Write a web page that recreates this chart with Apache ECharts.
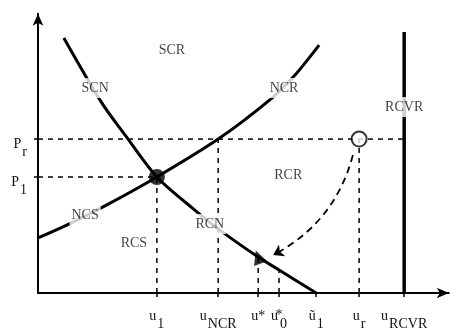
<!DOCTYPE html>
<html><head><meta charset="utf-8">
<script src="https://cdn.jsdelivr.net/npm/echarts@6/dist/echarts.min.js"></script>
<style>html,body{margin:0;padding:0;background:#fff}#c{width:459px;height:331px}</style>
</head><body><div id="c"></div>
<script>
// Axis tick positions (abstract units)
const uValues = [28.5, 43.2, 52.8, 57.8, 66.7, 77.0, 87.8]; // u1, uNCR, u*, u0*, ũ1, ur, uRCVR
const uLabels = ['{m|u}{s|1}', '{m|u}{s|NCR}', '{m|u*}', '{m|u}{st|*}{s|0}', '{m|ũ}{s|1}', '{m|u}{s|r}', '{m|u}{s|RCVR}'];
const pValues = [40.7, 54.0]; // p1, pr
const pLabels = ['{m|P}{s|1}', '{m|P}{s|r}'];

// Curve SCN -> RCN (downward sloping)
const scnX = [6.2, 15.3, 20.9, 28.5, 37.6, 43.2, 52.8, 57.8, 66.7];
const scnY = [89.5, 66.7, 55.4, 40.7, 29.1, 22.5, 12.6, 8.1, 0];
// Curve NCS -> NCR (upward sloping)
const ncsX = [0, 7.0, 16.5, 28.5, 43.2, 56.1, 61.4, 67.4];
const ncsY = [19.3, 23.9, 30.9, 40.7, 54.0, 68.4, 76.1, 87.0];
// RCVR vertical line top
const rcvrTop = 91.6;
// Region labels
const regionNames = ['SCR', 'SCN', 'NCR', 'RCVR', 'RCR', 'NCS', 'RCS', 'RCN'];
const regionX = [32.1, 13.7, 59.0, 87.8, 60.0, 11.3, 23.0, 41.2];
const regionY = [85.3, 71.9, 71.9, 65.3, 41.4, 27.4, 17.5, 24.2];
const regionOnLine = [false, true, true, true, false, true, false, true];
// Curved arrow from the open circle to the triangle
const arrowFrom = [75.5, 48.4];
const arrowTo = [56.4, 13.3];

const [u1, uNCR, uStar, u0Star, uT1, ur, uRCVR] = uValues;
const [p1, pr] = pValues;
const triY = scnY[6], u0Y = scnY[7];

const FONT = 'Liberation Serif';
const FS = 14;
const zip = (xs, ys) => xs.map((x, i) => [x, ys[i]]);

const guides = [
  [[0, pr], [uRCVR, pr]],
  [[0, p1], [u1, p1]],
  [[u1, 0], [u1, p1]],
  [[uNCR, 0], [uNCR, pr]],
  [[uStar, 0], [uStar, triY]],
  [[u0Star, 0], [u0Star, u0Y]],
  [[ur, 0], [ur, pr]]
];

function fmt(values, labels) {
  return v => {
    for (let i = 0; i < values.length; i++) if (Math.abs(v - values[i]) < 1e-6) return labels[i];
    return '';
  };
}
const rich = {
  m: { fontFamily: FONT, fontSize: FS, color: '#111', lineHeight: 10, verticalAlign: 'top' },
  s: { fontFamily: FONT, fontSize: FS, color: '#111', lineHeight: 10, verticalAlign: 'top', padding: [8, 0, 0, 1] },
  st: { fontFamily: FONT, fontSize: FS, color: '#111', lineHeight: 10, verticalAlign: 'top', width: 0.1, padding: [-1, 0, 0, 1] }
};

const series = [];
guides.forEach(g => series.push({
  type: 'line', data: g, symbol: 'none', silent: true, z: 1,
  lineStyle: { color: '#111', width: 1.6, type: [5, 5] }
}));
series.push({
  type: 'line', data: zip(scnX, scnY), smooth: 0.3, symbol: 'none', z: 3,
  lineStyle: { color: '#000', width: 3 }
});
series.push({
  type: 'line', data: zip(ncsX, ncsY), smooth: 0.3, symbol: 'none', z: 3,
  lineStyle: { color: '#000', width: 3 }
});
series.push({
  type: 'line', data: [[uRCVR, 0], [uRCVR, rcvrTop]], symbol: 'none', z: 3,
  lineStyle: { color: '#000', width: 3.5 }
});
series.push({
  type: 'lines', coordinateSystem: 'cartesian2d', z: 4,
  symbol: ['none', 'arrow'], symbolSize: 10,
  lineStyle: { color: '#000', width: 1.8, type: [7, 5], curveness: 0.22, opacity: 1 },
  data: [{ coords: [arrowFrom, arrowTo] }]
});
series.push({
  type: 'scatter', z: 6, symbol: 'circle', symbolSize: 16,
  itemStyle: { color: '#000' }, data: [[u1, p1]]
});
series.push({
  type: 'scatter', z: 6, symbol: 'circle', symbolSize: 15,
  itemStyle: { color: '#fff', borderColor: '#000', borderWidth: 2 }, data: [[ur, pr]]
});
series.push({
  type: 'scatter', z: 6, symbol: 'triangle', symbolSize: 14, symbolRotate: 20,
  itemStyle: { color: '#000' }, data: [[uStar, triY]]
});
series.push({
  type: 'scatter', z: 7, symbolSize: 0,
  data: regionNames.map((n, i) => ({
    name: n, value: [regionX[i], regionY[i]],
    label: regionOnLine[i] ? { backgroundColor: '#fff', padding: [3, 2] } : {}
  })),
  label: { show: true, position: 'inside', formatter: '{b}', fontFamily: FONT, fontSize: FS, color: '#111' }
});

const chart = echarts.init(document.getElementById('c'));
chart.setOption({
  animation: false,
  grid: { left: 38, right: 10.2, top: 13.7, bottom: 38, outerBoundsMode: 'none', containLabel: false },
  xAxis: {
    type: 'value', min: 0, max: 98.5,
    axisLine: { show: true, symbol: ['none', 'arrow'], symbolSize: [8, 12], lineStyle: { color: '#000', width: 2 } },
    axisTick: { show: true, customValues: uValues, length: 4, lineStyle: { color: '#000', width: 1.5 } },
    axisLabel: { customValues: uValues, formatter: fmt(uValues, uLabels), margin: 16, rich },
    splitLine: { show: false }
  },
  yAxis: {
    type: 'value', min: 0, max: 98,
    axisLine: { show: true, symbol: ['none', 'arrow'], symbolSize: [8, 12], lineStyle: { color: '#000', width: 2 } },
    axisTick: { show: true, customValues: pValues, length: 4, lineStyle: { color: '#000', width: 1.5 } },
    axisLabel: { customValues: pValues, formatter: fmt(pValues, pLabels), margin: 11, padding: [6, 0, 0, 0], rich },
    splitLine: { show: false }
  },
  series
});
</script></body></html>
